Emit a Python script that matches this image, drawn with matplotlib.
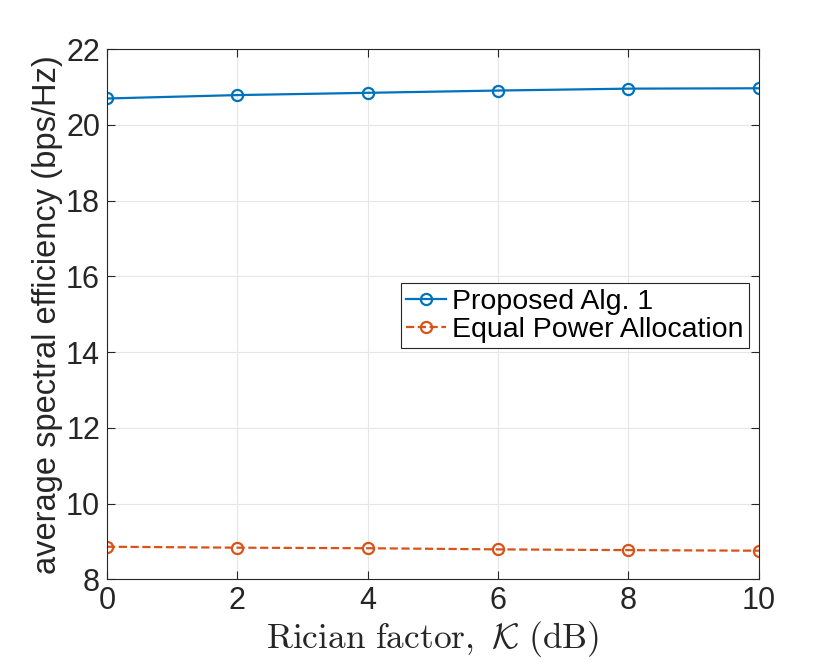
import matplotlib
matplotlib.use("Agg")
import matplotlib.pyplot as plt

plt.rcParams["font.family"] = ["Liberation Sans", "DejaVu Sans"]
plt.rcParams["mathtext.fontset"] = "cm"

rician_k = [0, 2, 4, 6, 8, 10]
proposed = [20.70, 20.79, 20.85, 20.91, 20.96, 20.97]
equal_power = [8.86, 8.835, 8.82, 8.79, 8.77, 8.755]

x_ticks = [0, 2, 4, 6, 8, 10]
y_ticks = [8, 10, 12, 14, 16, 18, 20, 22]

blue = (0.0, 0.447, 0.741)
orange = (0.85, 0.325, 0.098)
box_color = (0.15, 0.15, 0.15)

fig = plt.figure(figsize=(8.39, 6.65), dpi=100)
ax = fig.add_axes([0.1275, 0.1289, 0.777, 0.797])

ax.plot(rician_k, proposed, "-o", color=blue, linewidth=1.6, markersize=8,
        markerfacecolor="none", markeredgewidth=1.6, label="Proposed Alg. 1")
ax.plot(rician_k, equal_power, "--o", color=orange, linewidth=1.6, markersize=8,
        markerfacecolor="none", markeredgewidth=1.6, label="Equal Power Allocation")

ax.set_xlim(0, 10)
ax.set_ylim(8, 22)
ax.set_xticks(x_ticks)
ax.set_yticks(y_ticks)
ax.grid(True, color=(0.9, 0.9, 0.9), linewidth=0.8)
ax.set_axisbelow(True)

for spine in ax.spines.values():
    spine.set_color(box_color)
    spine.set_linewidth(0.8)
ax.tick_params(direction="in", top=True, right=True, length=6, width=0.8,
               colors=box_color, labelsize=22, labelcolor=box_color, pad=5)

ax.set_ylabel("average spectral efficiency (bps/Hz)", fontsize=23.5, labelpad=2,
              color=box_color)
ax.set_xlabel(r"$\mathrm{Rician\ factor,}\ \mathcal{K}\ \mathrm{(dB)}$", fontsize=25.5,
              labelpad=2, color=box_color)

leg = ax.legend(loc="center right", bbox_to_anchor=(0.985, 0.497), fontsize=20.5,
                fancybox=False, framealpha=1, edgecolor=box_color,
                borderpad=0.2, handlelength=1.4, handletextpad=0.2, labelspacing=0.05,
                borderaxespad=0)
leg.get_frame().set_linewidth(0.8)

fig.savefig("out.png", dpi=100)
